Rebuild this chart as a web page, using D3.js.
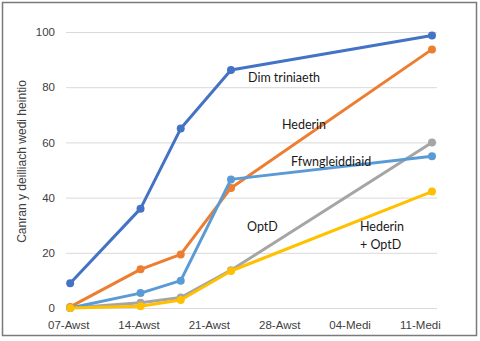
<!DOCTYPE html>
<html>
<head>
<meta charset="utf-8">
<script src="https://cdn.jsdelivr.net/npm/d3@7/dist/d3.min.js"></script>
<style>
  html, body { margin: 0; padding: 0; background: #fff; }
  svg { display: block; }
</style>
</head>
<body>
<script>
// Observation dates and the share of leaves infected for each treatment
const dates = ["2020-08-07", "2020-08-14", "2020-08-18", "2020-08-23", "2020-09-12"];
const dimTriniaeth = [9, 36, 65, 86.2, 98.7];
const hederin = [0.4, 14, 19.4, 43.5, 93.7];
const ffwngleiddiaid = [0, 5.4, 9.9, 46.6, 55];
const optD = [0, 1.9, 3.8, 13.7, 60];
const hederinOptD = [0, 0.6, 2.9, 13.4, 42.2];

const tickDates = ["2020-08-07", "2020-08-14", "2020-08-21", "2020-08-28", "2020-09-04", "2020-09-11"];
const tickLabels = ["07-Awst", "14-Awst", "21-Awst", "28-Awst", "04-Medi", "11-Medi"];
const yTicks = [0, 20, 40, 60, 80, 100];

const seriesNames = ["Dim triniaeth", "Hederin", "OptD", "Ffwngleiddiaid", "Hederin + OptD"];
const seriesValues = [dimTriniaeth, hederin, optD, ffwngleiddiaid, hederinOptD];
const seriesColors = ["#4472c4", "#ed7d31", "#a5a5a5", "#5b9bd5", "#ffc000"];

const W = 480, H = 341;
const plot = { left: 66, right: 437, top: 32, bottom: 308 };
const parse = d3.utcParse("%Y-%m-%d");

const svg = d3.select("body").append("svg").attr("width", W).attr("height", H);

// Chart frame
svg.append("rect")
  .attr("x", 2.5).attr("y", 2.5).attr("width", 474).attr("height", 333)
  .attr("fill", "#fff").attr("stroke", "#7a7a7a").attr("stroke-width", 1.5);

const x = d3.scaleUtc()
  .domain([new Date(Date.UTC(2020, 7, 6, 14)), new Date(Date.UTC(2020, 8, 12, 12))])
  .range([plot.left, plot.right]);
const y = d3.scaleLinear().domain([0, 100]).range([plot.bottom, plot.top]);

// Horizontal gridlines
svg.append("g").selectAll("line").data(yTicks).join("line")
  .attr("x1", plot.left).attr("x2", plot.right)
  .attr("y1", d => y(d) + 0.5).attr("y2", d => y(d) + 0.5)
  .attr("stroke", "#d9d9d9").attr("stroke-width", 1);

const font = "'Liberation Sans', Arial, sans-serif";

// Y axis labels
const yAxis = d3.axisLeft(y).tickValues(yTicks).tickSize(0).tickPadding(11);
const gy = svg.append("g").attr("transform", `translate(${plot.left},0)`).call(yAxis);
gy.select(".domain").remove();
gy.selectAll("text").attr("font-family", font).attr("font-size", 11.5).attr("fill", "#404040");

// X axis labels
const xAxis = d3.axisBottom(x).tickValues(tickDates.map(parse))
  .tickFormat((d, i) => tickLabels[i]).tickSize(0).tickPadding(13);
const gx = svg.append("g").attr("transform", `translate(0,${plot.bottom})`).call(xAxis);
gx.select(".domain").remove();
gx.selectAll("text").attr("font-family", font).attr("font-size", 11.5).attr("fill", "#404040").attr("dx", -2);

// Y axis title, sized to run along the value axis
const yTitle = svg.append("text")
  .attr("transform", `translate(26,${(80 + 243) / 2}) rotate(-90)`)
  .attr("text-anchor", "middle")
  .attr("font-family", font).attr("font-size", 12).attr("fill", "#404040")
  .text("Canran y deilliach wedi heintio");
const titleLen = yTitle.node().getComputedTextLength();
if (titleLen > 0) yTitle.attr("font-size", 12 * 163 / titleLen);

// Series lines and markers
const line = d3.line().x(d => x(d[0])).y(d => y(d[1]));
seriesValues.forEach((vals, i) => {
  const pts = dates.map((d, j) => [parse(d), vals[j]]);
  const g = svg.append("g");
  g.append("path").datum(pts).attr("d", line)
    .attr("fill", "none").attr("stroke", seriesColors[i])
    .attr("stroke-width", 3).attr("stroke-linejoin", "round").attr("stroke-linecap", "round");
  g.selectAll("circle").data(pts).join("circle")
    .attr("cx", d => x(d[0])).attr("cy", d => y(d[1])).attr("r", 4)
    .attr("fill", seriesColors[i]);
});

// Series names written beside their lines
const labelFont = "Lato, 'Open Sans', sans-serif";
const notes = [
  { lines: ["Dim triniaeth"], x: 248, y: 82 },
  { lines: ["Hederin"], x: 282, y: 128.5 },
  { lines: ["Ffwngleiddiaid"], x: 291, y: 166 },
  { lines: ["OptD"], x: 247, y: 231 },
  { lines: ["Hederin", "+ OptD"], x: 360, y: 231 }
];
notes.forEach(n => {
  const t = svg.append("text").attr("font-family", labelFont).attr("font-size", 12.5).attr("fill", "#1a1a1a");
  n.lines.forEach((s, k) => {
    t.append("tspan").attr("x", n.x).attr("y", n.y + k * 17.5).text(s);
  });
});
</script>
</body>
</html>
